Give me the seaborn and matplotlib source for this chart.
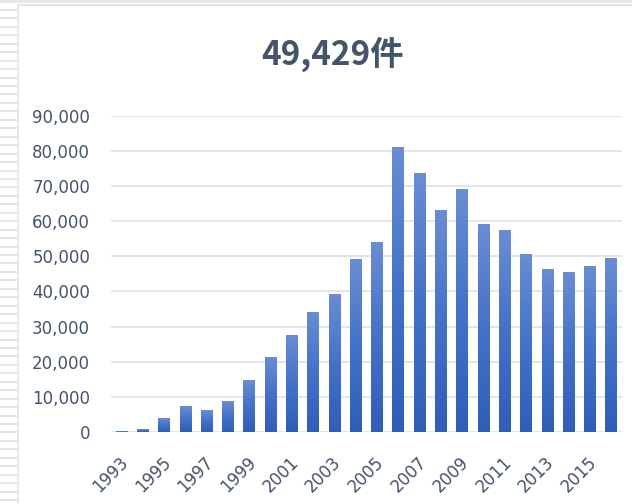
import numpy as np
import pandas as pd
import matplotlib
matplotlib.use("Agg")
import matplotlib.pyplot as plt
from matplotlib.colors import LinearSegmentedColormap
from matplotlib.ticker import FuncFormatter, MultipleLocator
import seaborn as sns

# Annual counts
years = [1993, 1994, 1995, 1996, 1997, 1998, 1999, 2000, 2001, 2002, 2003, 2004,
         2005, 2006, 2007, 2008, 2009, 2010, 2011, 2012, 2013, 2014, 2015, 2016]
counts = [200, 800, 3900, 7300, 6200, 8750, 14700, 21300, 27500, 34100, 39200, 49200,
          54000, 80800, 73400, 62900, 68900, 58900, 57200, 50600, 46100, 45500, 47200, 49429]
title_text = "49,429件"
y_max = 90000
y_step = 10000

df = pd.DataFrame({"year": [str(y) for y in years], "count": counts})

sns.set_theme(style="white")
plt.rcParams["font.family"] = ["DejaVu Sans"]

TEXT = "#44546A"
GRID = "#E2E5EA"

W, H = 632, 504
fig = plt.figure(figsize=(W / 100, H / 100), dpi=100, facecolor="white")

# Background: sheet rows on the left and the chart frame
bg = fig.add_axes([0, 0, 1, 1], zorder=-5)
bg.set_xlim(0, W)
bg.set_ylim(H, 0)
bg.axis("off")
for yy in np.arange(1.5, H, 8.45):
    bg.plot([0, 17], [yy, yy], color="#E4E4E4", lw=1.4, solid_capstyle="butt")
bg.plot([0, W], [1, 1], color="#E6E6E6", lw=2.0)
bg.plot([18, 18], [5, H], color="#DCE3EC", lw=1.2)
bg.plot([18, W], [5, 5], color="#DCE3EC", lw=1.2)
bg.add_patch(plt.Rectangle((18.6, 5.6), W - 18.6, H - 5.6, color="white", zorder=-1))

left, right = 111 / W, 622 / W
bottom, top = 1 - 432 / H, 1 - 115.6 / H
ax = fig.add_axes([left, bottom, right - left, top - bottom])

sns.barplot(data=df, x="year", y="count", ax=ax, width=0.56, color="#4472C4",
            saturation=1, errorbar=None, zorder=3)

ax.set_ylim(0, y_max)

# Per-bar vertical gradient: light at the top, deeper blue at the base
cmap = LinearSegmentedColormap.from_list("barfill", ["#2F5EB9", "#4372C8", "#6A8DD3"])
grad = np.linspace(0, 1, 256).reshape(-1, 1)
for p in ax.patches:
    x0, w, h = p.get_x(), p.get_width(), p.get_height()
    p.set_facecolor("none")
    p.set_edgecolor("none")
    ax.imshow(grad, extent=[x0, x0 + w, 0, h], origin="lower", aspect="auto",
              cmap=cmap, zorder=3, interpolation="bilinear")

ax.set_xlim(-0.5, len(years) - 0.5)
ax.set_ylim(0, y_max)

ax.yaxis.set_major_locator(MultipleLocator(y_step))
ax.yaxis.set_major_formatter(FuncFormatter(lambda v, _: f"{int(v):,}"))
ax.grid(axis="y", color=GRID, lw=1.4, zorder=0)
ax.set_axisbelow(True)

tick_pos = list(range(0, len(years), 2))
ax.set_xticks(tick_pos)
ax.set_xticklabels([df["year"][i] for i in tick_pos], rotation=45, ha="right",
                   va="center", rotation_mode="anchor")

ax.tick_params(axis="both", length=0, labelsize=12, colors=TEXT)
ax.tick_params(axis="x", pad=20)
ax.tick_params(axis="y", pad=15)
for lab in ax.get_xticklabels() + ax.get_yticklabels():
    lab.set_color(TEXT)
# nudge the slanted year labels slightly to the right
from matplotlib.transforms import ScaledTranslation
shift = ScaledTranslation(4 / 100, 0, fig.dpi_scale_trans)
for lab in ax.get_xticklabels():
    lab.set_transform(lab.get_transform() + shift)

for s in ax.spines.values():
    s.set_visible(False)
ax.set_xlabel("")
ax.set_ylabel("")
ax.set_facecolor("none")

fig.text(333 / W, 1 - 54 / H, title_text, ha="center", va="center", fontsize=24,
         fontweight="bold", color=TEXT, family=["Noto Sans CJK JP", "DejaVu Sans"])

fig.savefig("out.png", dpi=100, facecolor="white")
